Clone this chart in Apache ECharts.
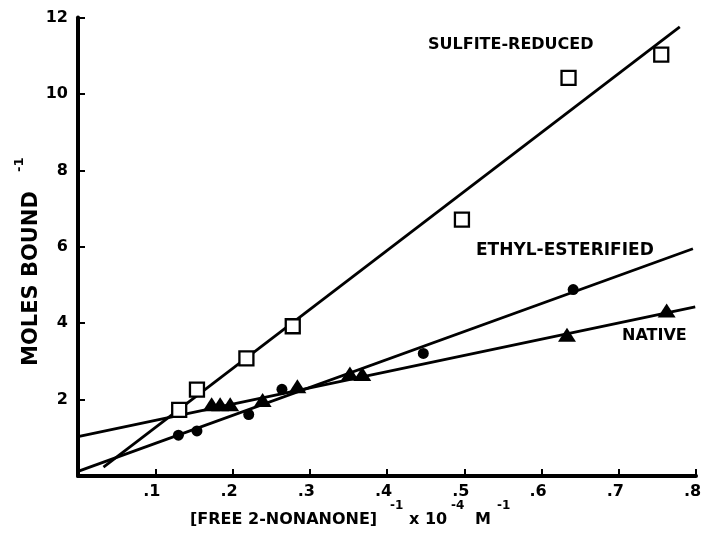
<!DOCTYPE html>
<html>
<head>
<meta charset="utf-8">
<script src="https://cdn.jsdelivr.net/npm/echarts@6/dist/echarts.min.js"></script>
<style>
  html, body { margin: 0; padding: 0; background: #fff; }
  #chart { width: 701px; height: 553px; }
</style>
</head>
<body>
<div id="chart"></div>
<script>
// Double-reciprocal binding plot: 1/moles bound vs 1/[free 2-nonanone]

// Sulfite-reduced protein (open squares)
const sulfitePoints = [
  [0.131, 1.73], [0.154, 2.26], [0.218, 3.08], [0.278, 3.92],
  [0.497, 6.71], [0.635, 10.42], [0.755, 11.03]
];
// Ethyl-esterified protein (filled circles)
const ethylPoints = [
  [0.130, 1.07], [0.154, 1.18], [0.221, 1.61], [0.264, 2.27],
  [0.447, 3.21], [0.641, 4.88]
];
// Native protein (filled triangles)
const nativePoints = [
  [0.173, 1.88], [0.184, 1.88], [0.197, 1.88], [0.239, 1.99],
  [0.284, 2.35], [0.352, 2.68], [0.368, 2.67], [0.633, 3.70], [0.762, 4.33]
];

// Fitted straight lines (end points)
const sulfiteFit = [[0.033, 0.23], [0.779, 11.76]];
const ethylFit = [[0.0, 0.12], [0.796, 5.95]];
const nativeFit = [[0.0, 1.03], [0.799, 4.43]];

// Axis tick labels
const xTickValues = [0, 0.1, 0.2, 0.3, 0.4, 0.5, 0.6, 0.7, 0.8];
const xTickLabels = ['', '.1', '.2', '.3', '.4', '.5', '.6', '.7', '.8'];
const yTickValues = [0, 2, 4, 6, 8, 10, 12];
const yTickLabels = ['', '2', '4', '6', '8', '10', '12'];

const FONT = '"DejaVu Sans", sans-serif';
const INK = '#000';

function tickLabel(values, labels) {
  return function (v) {
    for (let i = 0; i < values.length; i++) {
      if (Math.abs(values[i] - v) < 1e-6) return labels[i];
    }
    return '';
  };
}

const chart = echarts.init(document.getElementById('chart'), null, { renderer: 'canvas' });

const fitLine = (data) => ({
  type: 'line',
  data: data,
  symbol: 'none',
  z: 2,
  silent: true,
  lineStyle: { color: INK, width: 2.8, opacity: 1 }
});

chart.setOption({
  animation: false,
  backgroundColor: '#fff',
  grid: {
    left: 78, right: 5, top: 17.6, bottom: 77,
    containLabel: false,
    outerBoundsMode: 'none'
  },
  xAxis: {
    type: 'value',
    min: 0, max: 0.8, interval: 0.1,
    axisLine: { show: true, lineStyle: { color: INK, width: 4 } },
    axisTick: { show: true, inside: true, length: 7, lineStyle: { color: INK, width: 2 } },
    splitLine: { show: false },
    axisLabel: {
      margin: 8,
      color: INK,
      fontFamily: FONT,
      fontWeight: 'bold',
      fontSize: 16,
      padding: [0, 7, 0, 0],
      formatter: tickLabel(xTickValues, xTickLabels)
    }
  },
  yAxis: {
    type: 'value',
    min: 0, max: 12, interval: 2,
    axisLine: { show: true, lineStyle: { color: INK, width: 4 } },
    axisTick: { show: true, inside: true, length: 7, lineStyle: { color: INK, width: 2 } },
    splitLine: { show: false },
    axisLabel: {
      margin: 10,
      color: INK,
      fontFamily: FONT,
      fontWeight: 'bold',
      fontSize: 16,
      formatter: tickLabel(yTickValues, yTickLabels)
    }
  },
  series: [
    fitLine(sulfiteFit),
    fitLine(ethylFit),
    fitLine(nativeFit),
    {
      type: 'scatter',
      data: sulfitePoints,
      symbol: 'rect',
      symbolSize: 14,
      z: 5,
      itemStyle: { color: '#fff', borderColor: INK, borderWidth: 2.3, opacity: 1 }
    },
    {
      type: 'scatter',
      data: ethylPoints,
      symbol: 'circle',
      symbolSize: 11,
      z: 5,
      itemStyle: { color: INK, opacity: 1 }
    },
    {
      type: 'scatter',
      data: nativePoints,
      symbol: 'triangle',
      symbolSize: [18, 14],
      z: 5,
      itemStyle: { color: INK, opacity: 1 }
    }
  ],
  graphic: [
    // series labels
    { type: 'text', left: 428, top: 37, style: { text: 'SULFITE-REDUCED', font: 'bold 16px ' + FONT, fill: INK } },
    { type: 'text', left: 476, top: 242, style: { text: 'ETHYL-ESTERIFIED', font: 'bold 17px ' + FONT, fill: INK } },
    { type: 'text', left: 622, top: 328, style: { text: 'NATIVE', font: 'bold 16px ' + FONT, fill: INK } },

    // x-axis title with superscripts
    { type: 'text', left: 190, top: 512, style: { text: '[FREE 2-NONANONE]', font: 'bold 16px ' + FONT, fill: INK } },
    { type: 'text', left: 390, top: 500, style: { text: '-1', font: 'bold 12px ' + FONT, fill: INK } },
    { type: 'text', left: 409, top: 512, style: { text: 'x 10', font: 'bold 16px ' + FONT, fill: INK } },
    { type: 'text', left: 451, top: 500, style: { text: '-4', font: 'bold 12px ' + FONT, fill: INK } },
    { type: 'text', left: 475, top: 512, style: { text: 'M', font: 'bold 16px ' + FONT, fill: INK } },
    { type: 'text', left: 497, top: 500, style: { text: '-1', font: 'bold 12px ' + FONT, fill: INK } },

    // y-axis title, reading bottom to top, with superscript
    {
      type: 'text', x: 32, y: 366, rotation: Math.PI / 2,
      style: { text: 'MOLES BOUND', font: 'bold 21px ' + FONT, fill: INK, align: 'left', verticalAlign: 'middle' }
    },
    {
      type: 'text', x: 20, y: 172, rotation: Math.PI / 2,
      style: { text: '-1', font: 'bold 13px ' + FONT, fill: INK, align: 'left', verticalAlign: 'middle' }
    }
  ]
});
</script>
</body>
</html>
